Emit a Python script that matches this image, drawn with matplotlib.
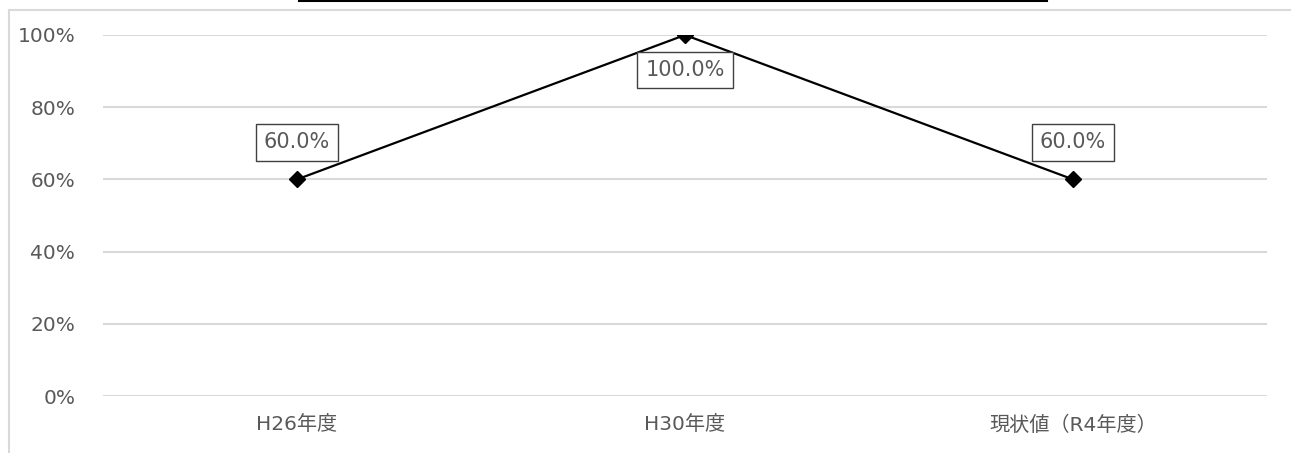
import matplotlib.pyplot as plt
from matplotlib.patches import Rectangle
from matplotlib.lines import Line2D

plt.rcParams['font.family'] = ['DejaVu Sans', 'Noto Sans CJK JP']

categories = ['H26年度', 'H30年度', '現状値（R4年度）']
values = [0.60, 1.00, 0.60]
labels = ['60.0%', '100.0%', '60.0%']
yticks = [0, 0.2, 0.4, 0.6, 0.8, 1.0]
ytick_labels = ['0%', '20%', '40%', '60%', '80%', '100%']

W, H = 1291, 453
fig = plt.figure(figsize=(W / 100, H / 100), dpi=100)

# outer chart frame (partly cut off) and title box edge
fig.patches.append(Rectangle((9 / W, -0.1), 1.2, 1 - 10 / H + 0.1, transform=fig.transFigure,
                             fill=False, edgecolor='#d9d9d9', linewidth=1.5))
fig.lines.append(Line2D([299 / W, 1047 / W], [1 - 0.5 / H, 1 - 0.5 / H], transform=fig.transFigure,
                        color='black', linewidth=1.5))

ax = fig.add_axes([103 / W, 1 - 396 / H, (1267 - 103) / W, (396 - 35) / H])
x = list(range(len(categories)))
ax.set_xlim(-0.5, len(categories) - 0.5)
ax.set_ylim(0, 1)

for t in yticks:
    ax.axhline(t, color='#d9d9d9', linewidth=1.5, zorder=0)

ax.plot(x, values, color='black', linewidth=1.6, marker='D', markersize=8, zorder=3)

offsets = [37, -35, 37]
for xi, v, lab, off in zip(x, values, labels, offsets):
    ax.annotate(lab, (xi, v), xytext=(0, off * 0.72), textcoords='offset points',
                ha='center', va='center', fontsize=15, color='#595959', zorder=4,
                bbox=dict(boxstyle='square,pad=0.4', facecolor='white', edgecolor='#404040', linewidth=1))

ax.set_yticks(yticks)
ax.set_yticklabels(ytick_labels)
ax.set_xticks(x)
ax.set_xticklabels(categories)
ax.tick_params(axis='both', length=0, labelsize=14.5, labelcolor='#595959')
ax.tick_params(axis='y', pad=20)
ax.tick_params(axis='x', pad=14)
for s in ax.spines.values():
    s.set_visible(False)

fig.savefig('out.png', dpi=100)
